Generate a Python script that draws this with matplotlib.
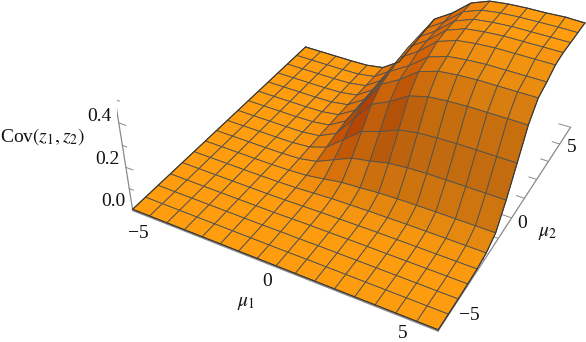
import numpy as np
import matplotlib
matplotlib.use('Agg')
import matplotlib.pyplot as plt

plt.rcParams['font.family'] = ['Liberation Serif', 'DejaVu Serif']
plt.rcParams['mathtext.fontset'] = 'stix'

mu1 = np.linspace(-5, 5, 17)
mu2 = np.linspace(-5, 5, 17)

row_00 = [0, 0, 0, 0, 0, 0, 0, 0, 0, 0, 0, 0, 0, 0, 0, 0, 0]
row_01 = [0, 0, 0, 0, 0, 0, 0, 0, 0, .001, .001, .001, .001, .001, .001, .001, .001]
row_02 = [0, 0, 0, 0, 0, 0, 0, .001, .001, .002, .002, .002, .002, .002, .002, .002, .002]
row_03 = [0, 0, 0, 0, 0, 0, 0, .002, .003, .003, .004, .004, .004, .004, .004, .004, .004]
row_04 = [0, 0, 0, 0, 0, 0, .001, .003, .005, .006, .007, .008, .008, .008, .008, .008, .008]
row_05 = [0, 0, 0, 0, 0, .001, .003, .008, .013, .015, .017, .018, .019, .019, .019, .019, .019]
row_06 = [0, 0, 0, 0, 0, .002, .007, .020, .034, .039, .046, .049, .050, .051, .051, .051, .051]
row_07 = [0, 0, 0, 0, .001, .004, .020, .058, .096, .112, .132, .141, .144, .145, .145, .145, .145]
row_08 = [0, 0, 0, 0, .001, .008, .036, .103, .170, .199, .235, .250, .255, .258, .258, .258, .258]
row_09 = [0, 0, 0, 0, .001, .011, .052, .150, .247, .288, .340, .363, .370, .374, .374, .374, .374]
row_10 = [0, 0, 0, 0, .002, .013, .062, .177, .292, .340, .402, .429, .438, .442, .442, .442, .442]
row_11 = [0, 0, 0, 0, .002, .014, .065, .185, .306, .357, .421, .449, .458, .463, .463, .463, .463]
row_12 = [0, 0, 0, 0, .002, .015, .069, .196, .323, .377, .446, .475, .485, .490, .490, .490, .490]
row_13 = [0, 0, 0, 0, .002, .015, .070, .199, .329, .383, .453, .483, .493, .498, .498, .498, .498]
row_14 = [0, 0, 0, 0, .002, .015, .070, .199, .329, .383, .452, .483, .492, .497, .497, .497, .497]
row_15 = [0, 0, 0, 0, .002, .015, .070, .199, .329, .382, .452, .482, .492, .496, .497, .498, .497]
row_16 = [0, 0, 0, 0, .002, .015, .070, .200, .330, .382, .451, .482, .491, .495, .496, .500, .497]

Z = np.array([row_00, row_01, row_02, row_03, row_04, row_05, row_06, row_07, row_08,
              row_09, row_10, row_11, row_12, row_13, row_14, row_15, row_16])
X, Y = np.meshgrid(mu1, mu2)

W, H = 586, 342
fig = plt.figure(figsize=(W / 100, H / 100), dpi=100)
side = 476.0
ax = fig.add_axes([117.2 / W, -17.04 / H, side / W, side / H], projection='3d')
ax.set_xlim(-5, 5)
ax.set_ylim(-5, 5)
ax.set_zlim(0, .5)
ax.set_box_aspect((1, 1, .4))
ax.set_proj_type('persp', focal_length=.44)
ax.view_init(elev=36.5, azim=-61.5)
ax.set_axis_off()
ax.computed_zorder = False

# darker where the surface climbs, softened across neighbouring cells
base = np.array([1.0, .615, .06])
dark_y = np.array([.76, .42, .06])
dark_x = np.array([.78, .29, 0.0])
sy = np.clip((Z[1:, :-1] + Z[1:, 1:] - Z[:-1, :-1] - Z[:-1, 1:]) / 2 / .10, 0, 1)
sx = np.clip((Z[:-1, 1:] + Z[1:, 1:] - Z[:-1, :-1] - Z[1:, :-1]) / 2 / .11, 0, 1)


def soften(a):
    p = np.pad(a, 1, mode='edge')
    return (2 * p[1:-1, 1:-1] + p[:-2, 1:-1] + p[2:, 1:-1]) / 4


sy = soften(sy)[..., None]
sx = soften(sx)[..., None]
colors = np.clip(base + (dark_y - base) * sy + (dark_x - base) * sx, 0, 1)

ax.plot_surface(X, Y, Z, facecolors=colors, edgecolor='#55524a', linewidth=.65,
                rstride=1, cstride=1, shade=False, zorder=2)

# dark outline of the sheet
outline = '#3a3630'
ax.plot(mu1, mu2[0] * np.ones(17), Z[0], color=outline, lw=.8, zorder=3)
ax.plot(mu1, mu2[-1] * np.ones(17), Z[-1], color=outline, lw=.8, zorder=3)
ax.plot(mu1[0] * np.ones(17), mu2, Z[:, 0], color=outline, lw=.8, zorder=3)
ax.plot(mu1[-1] * np.ones(17), mu2, Z[:, -1], color=outline, lw=.8, zorder=3)

axis_col = '#8a8a8a'
ax.plot([-5, -5], [-5, -5], [0, .5], color=axis_col, lw=.9, zorder=1)
ax.plot([-5, 5], [-5, -5], [-.006, -.006], color=axis_col, lw=1.0, zorder=1)
ax.plot([5, 5], [-5, 5], [-.005, 0], color=axis_col, lw=.9, zorder=1)
for z in np.arange(0, .51, .1):
    ax.plot([-5, -4.75 if round(z * 10) % 2 == 0 else -4.85], [-5, -5], [z, z], color=axis_col, lw=.7, zorder=1)
for v in range(-5, 6):
    ax.plot([5, 4.6 if v % 5 == 0 else 4.75], [v, v], [0, 0], color=axis_col, lw=.7, zorder=1)


def label(x, y, s, size=14):
    fig.text(x / W, 1 - y / H, s, ha='center', va='center', fontsize=size, color='#111111')


label(138, 234, '\u22125')
label(267, 282, '0')
label(403, 334, '5')
label(246, 303, r'$\mu_1$')
label(469, 316, '\u22125')
label(522, 223, '0')
label(572, 147, '5')
label(548, 233, r'$\mu_2$')
label(113, 202, '0.0')
label(107, 160, '0.2')
label(99, 117, '0.4')
label(42, 137, r'Cov$(z_1,z_2)$')

fig.savefig('out.png', dpi=100)
